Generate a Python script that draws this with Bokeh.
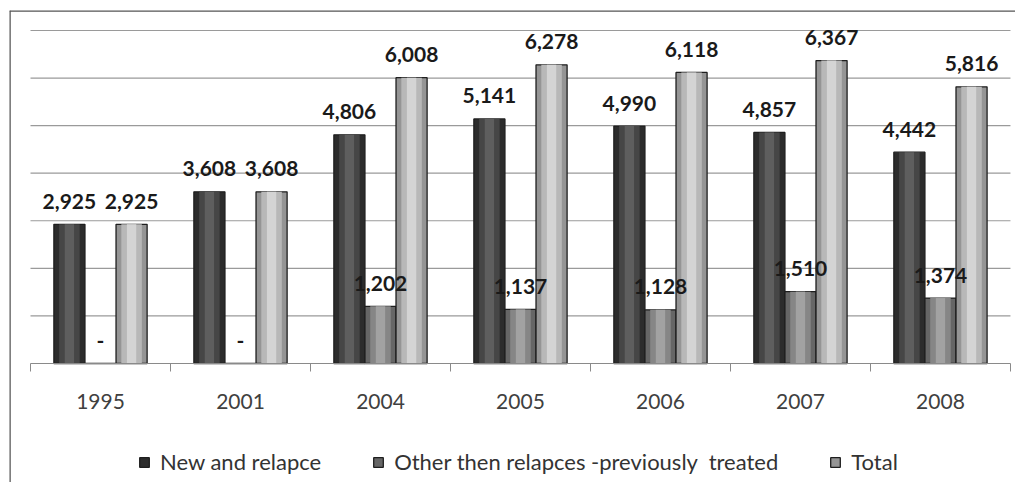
from bokeh.plotting import figure
from bokeh.models import (ColumnDataSource, FixedTicker, Legend, LegendItem, Range1d, Span)
from bokeh.core.properties import value
from bokeh.embed import file_html
from bokeh.resources import INLINE

# ---- data ----
years = ["1995", "2001", "2004", "2005", "2006", "2007", "2008"]
new_relapse = [2925, 3608, 4806, 5141, 4990, 4857, 4442]
other_prev = [0, 0, 1202, 1137, 1128, 1510, 1374]
total = [2925, 3608, 6008, 6278, 6118, 6367, 5816]
series_names = ["New and relapce", "Other then relapces -previously  treated", "Total"]
y_ticks = [1000, 2000, 3000, 4000, 5000, 6000, 7000]

FONT = "Lato"
n = len(years)
centers = [i + 0.5 for i in range(n)]
bw = 0.222
offsets = [-bw, 0.0, bw]
series = [new_relapse, other_prev, total]
# (edge, mid, highlight)
palettes = [("#2c2c2c", "#464646", "#5e5e5e"),
            ("#666666", "#868686", "#a2a2a2"),
            ("#959595", "#b8b8b8", "#d4d4d4")]

def fmt(v):
    return "-" if v == 0 else f"{v:,}"

# view ranges: the frame also holds the category labels and the legend below the bars
X0, X1 = -0.15, n + 0.036
Y0, Y1 = -2502, 7420

p = figure(width=1015, height=482, output_backend="svg", toolbar_location=None,
           x_range=Range1d(X0, X1), y_range=Range1d(Y0, Y1),
           min_border_left=9, min_border_right=0, min_border_top=10, min_border_bottom=0)
p.outline_line_color = None
p.background_fill_color = "white"
p.border_fill_color = "white"
p.grid.visible = False
p.yaxis.visible = False

# frame edges of the picture (left, top)
p.add_layout(Span(location=X0, dimension="height", line_color="#555555", line_width=2.5))
p.add_layout(Span(location=Y1, dimension="width", line_color="#555555", line_width=2.5))

# horizontal gridlines across the category span
p.segment(x0=[0] * len(y_ticks), x1=[n] * len(y_ticks), y0=y_ticks, y1=y_ticks,
          line_color="#9a9a9a", line_width=1.2)

# x axis at zero
xa = p.xaxis[0]
xa.fixed_location = 0
xa.bounds = (0, n)
xa.ticker = FixedTicker(ticks=centers, minor_ticks=list(range(n + 1)))
xa.major_label_overrides = {c: y for c, y in zip(centers, years)}
xa.major_tick_out = 0
xa.major_tick_in = 0
xa.minor_tick_out = 8
xa.minor_tick_in = 0
xa.minor_tick_line_color = "#8a8a8a"
xa.axis_line_color = "#8a8a8a"
xa.axis_line_width = 1.2
xa.major_label_text_font = FONT
xa.major_label_text_font_size = "21px"
xa.major_label_text_color = "#404040"
xa.major_label_standoff = 23

bars = []
label_sources = []
for vals, off, pal in zip(series, offsets, palettes):
    src = ColumnDataSource(dict(x=[c + off for c in centers], top=vals,
                                label=[fmt(v) for v in vals]))
    base = p.vbar(x="x", top="top", width=bw, source=src, fill_color=pal[0],
                  line_color="#1e1e1e", line_width=1.3)
    p.vbar(x="x", top="top", width=bw * 0.66, source=src, fill_color=pal[1], line_color=None)
    p.vbar(x="x", top="top", width=bw * 0.3, source=src, fill_color=pal[2], line_color=None)
    bars.append(base)
    label_sources.append(src)

for src in label_sources:
    p.text(x="x", y="top", text="label", source=src, text_font=value(FONT),
           text_font_style="bold", text_font_size="21px", text_color="#1a1a1a",
           text_align="center", text_baseline="middle", y_offset=-23)

legend = Legend(items=[LegendItem(label=nm, renderers=[b]) for nm, b in zip(series_names, bars)],
                orientation="horizontal", location=(129, 7),
                label_text_font=FONT, label_text_font_size="22px", label_text_color="#333333",
                glyph_width=12, glyph_height=12, label_standoff=10, spacing=51,
                padding=0, margin=0, border_line_color=None, background_fill_alpha=0)
p.add_layout(legend, "center")

open("out.html", "w").write(file_html(p, INLINE))
